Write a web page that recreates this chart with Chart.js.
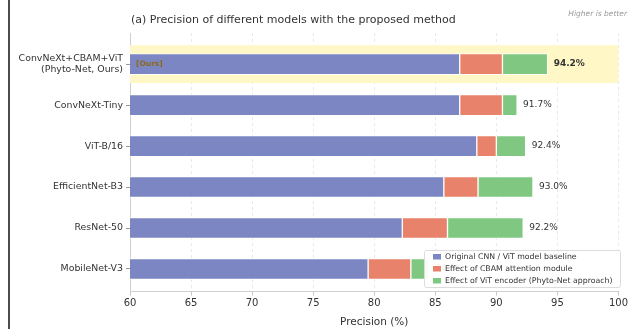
<!DOCTYPE html>
<html>
<head>
<meta charset="utf-8">
<script src="https://cdn.jsdelivr.net/npm/chart.js@4.4.1/dist/chart.umd.min.js"></script>
<style>
  html, body { margin: 0; padding: 0; background: #fff; }
  #wrap { width: 630px; height: 329px; position: relative; }
</style>
</head>
<body>
<div id="wrap"><canvas id="chart" width="630" height="329"></canvas></div>
<script>
// datos del grafico
const models = [
    ['ConvNeXt+CBAM+ViT', '(Phyto-Net, Ours)'],
    'ConvNeXt-Tiny',
    'ViT-B/16',
    'EfficientNet-B3',
    'ResNet-50',
    'MobileNet-V3'
];
const baseline = [87.0, 87.0, 88.4, 85.7, 82.3, 79.5];
const cbamGain = [3.5, 3.5, 1.6, 2.8, 3.7, 3.5];
const vitGain = [3.7, 1.2, 2.4, 4.5, 6.2, 1.5];
const xTicks = [60, 65, 70, 75, 80, 85, 90, 95, 100];
const seriesNames = [
    'Original CNN / ViT model baseline',
    'Effect of CBAM attention module',
    'Effect of ViT encoder (Phyto-Net approach)'
];
const colors = ['#7b86c2', '#e8826a', '#80c882'];

const FONT = '"DejaVu Sans", sans-serif';
const totals = baseline.map((b, i) => b + cbamGain[i] + vitGain[i]);

const toPoints = arr => arr.map((v, i) => ({ x: v, y: i }));

// franja amarilla detras de la fila "Ours" + textos extra
const backdrop = {
    id: 'backdrop',
    beforeDatasetsDraw(chart) {
        const { ctx, chartArea, scales } = chart;
        const y0 = scales.y.getPixelForValue(-0.46);
        const y1 = scales.y.getPixelForValue(0.46);
        ctx.save();
        ctx.fillStyle = '#fff7c6';
        ctx.fillRect(chartArea.left, y0, chartArea.right - chartArea.left, y1 - y0);
        ctx.restore();
    },
    afterDraw(chart) {
        const { ctx, chartArea, scales } = chart;
        ctx.save();
        // linea negra borde izquierdo
        ctx.strokeStyle = '#111';
        ctx.lineWidth = 1.5;
        ctx.beginPath();
        ctx.moveTo(9, 0);
        ctx.lineTo(9, chart.height);
        ctx.stroke();

        // titulo
        ctx.fillStyle = '#333';
        ctx.font = '11px ' + FONT;
        ctx.textBaseline = 'middle';
        ctx.textAlign = 'left';
        ctx.fillText('(a) Precision of different models with the proposed method', 131, 20);

        ctx.fillStyle = '#999';
        ctx.font = 'italic 7.5px ' + FONT;
        ctx.textAlign = 'right';
        ctx.fillText('Higher is better', 627, 14);

        // etiqueta [Ours]
        ctx.fillStyle = '#8b6a1e';
        ctx.font = 'bold 7.5px ' + FONT;
        ctx.textAlign = 'left';
        ctx.fillText('[Ours]', chartArea.left + 6, scales.y.getPixelForValue(0));

        // valores totales
        totals.forEach((t, i) => {
            const px = scales.x.getPixelForValue(t) + 6;
            const py = scales.y.getPixelForValue(i);
            ctx.fillStyle = '#333';
            ctx.font = (i === 0 ? 'bold ' : '') + '9px ' + FONT;
            ctx.fillText(t.toFixed(1) + '%', px, py);
        });

        // leyenda
        const lx = 424, ly = 250, lw = 196, lh = 37;
        ctx.fillStyle = 'rgba(255,255,255,0.92)';
        ctx.strokeStyle = '#dcdcdc';
        ctx.lineWidth = 1;
        ctx.beginPath();
        ctx.roundRect(lx + 0.5, ly + 0.5, lw, lh, 2);
        ctx.fill();
        ctx.stroke();
        chart.data.datasets.forEach((ds, i) => {
            const ry = ly + 6.5 + i * 12;
            ctx.fillStyle = ds.backgroundColor;
            ctx.fillRect(lx + 9, ry - 2.5, 8, 5.5);
            ctx.fillStyle = '#333';
            ctx.font = '7.8px ' + FONT;
            ctx.fillText(ds.label, lx + 21, ry + 0.5);
        });
        ctx.restore();
    }
};

const ctx = document.getElementById('chart').getContext('2d');
const chart = new Chart(ctx, {
    type: 'bar',
    data: {
        datasets: [baseline, cbamGain, vitGain].map((arr, k) => ({
            label: seriesNames[k],
            data: toPoints(arr),
            backgroundColor: colors[k],
            borderColor: 'rgba(255,255,255,0.85)',
            borderWidth: 1,
            borderSkipped: false,
            barThickness: 21
        }))
    },
    options: {
        responsive: false,
        animation: false,
        indexAxis: 'y',
        layout: { padding: { top: 33, right: 8, left: 0, bottom: 0 } },
        scales: {
            x: {
                type: 'linear',
                stacked: true,
                min: 60,
                max: 100,
                afterBuildTicks: scale => { scale.ticks = xTicks.map(v => ({ value: v })); },
                afterFit: scale => { scale.height = 37.5; },
                grid: {
                    color: '#e4e4e4',
                    lineWidth: 0.8,
                    tickLength: 4,
                    tickColor: '#bbb'
                },
                border: { display: true, color: '#cfcfcf', dash: [3, 3] },
                ticks: { color: '#333', font: { family: FONT, size: 10 }, padding: 2 },
                title: {
                    display: true,
                    text: 'Precision (%)',
                    color: '#333',
                    font: { family: FONT, size: 10.5 },
                    padding: { top: 2, bottom: 0 }
                }
            },
            y: {
                type: 'linear',
                stacked: true,
                reverse: true,
                offset: false,
                min: -0.76,
                max: 5.55,
                afterBuildTicks: scale => { scale.ticks = models.map((_, i) => ({ value: i })); },
                afterFit: scale => { scale.width = 130; },
                grid: {
                    offset: false,
                    drawOnChartArea: false,
                    tickLength: 4,
                    tickColor: '#999'
                },
                border: { display: true, color: '#cfcfcf' },
                ticks: {
                    color: '#333',
                    font: { family: FONT, size: 9.4 },
                    padding: 3,
                    autoSkip: false,
                    callback: v => models[v]
                }
            }
        },
        plugins: {
            legend: { display: false },
            tooltip: { enabled: false },
            title: { display: false }
        }
    },
    plugins: [backdrop]
});
</script>
</body>
</html>
